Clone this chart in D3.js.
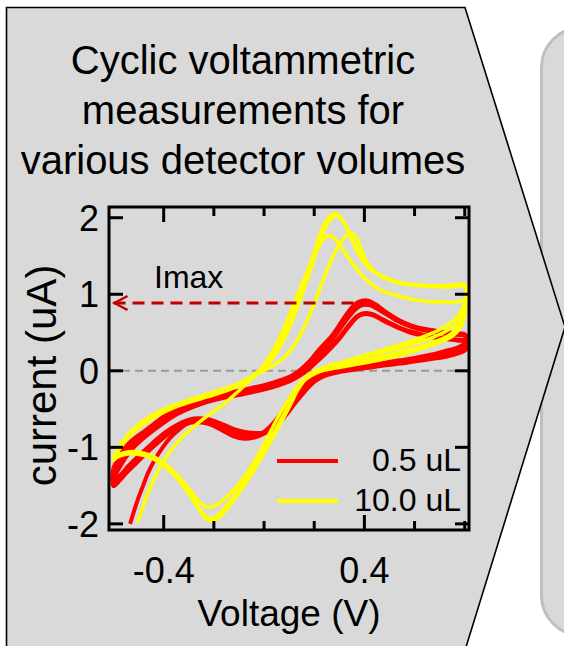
<!DOCTYPE html>
<html><head><meta charset="utf-8">
<script src="https://cdn.jsdelivr.net/npm/d3@7"></script>
<style>html,body{margin:0;padding:0;background:#fff;}svg{display:block;}</style>
</head><body>
<script>
// ---------- data ----------
const titleLines = ["Cyclic voltammetric", "measurements for", "various detector volumes"];
const xLabel = "Voltage (V)";
const yLabel = "current (uA)";
const xMajorTicks = [-0.4, 0.4];
const xMinorTicks = [-0.2, 0, 0.2, 0.6, 0.8];
const xTickLabels = ["-0.4", "0.4"];
const yTicks = [-2, -1, 0, 1, 2];
const yTickLabels = ["-2", "-1", "0", "1", "2"];
const seriesNames = ["0.5 uL", "10.0 uL"];
const seriesColors = ["#ff0000", "#ffff00"];
const imaxValue = 0.886;
const imaxVoltage = 0.395;

// 0.5 uL cycles: [voltage, current]
const red_tail = [[-0.534,-2.00],[-0.518,-1.83],[-0.502,-1.67],[-0.482,-1.50],[-0.462,-1.33],[-0.435,-1.16],[-0.406,-1.01],[-0.375,-0.88],[-0.343,-0.78],[-0.303,-0.68],[-0.265,-0.65]];
const red_cycle1 = [[-0.600,-1.28],[-0.575,-1.12],[-0.540,-0.96],[-0.500,-0.85],[-0.474,-0.79],[-0.430,-0.68],[-0.390,-0.58],[-0.343,-0.49],[-0.290,-0.41],[-0.235,-0.36],[-0.170,-0.31],[-0.104,-0.27],[-0.050,-0.23],[0.004,-0.19],[0.055,-0.14],[0.104,-0.08],[0.135,-0.02],[0.163,0.06],[0.190,0.15],[0.215,0.25],[0.243,0.35],[0.271,0.45],[0.297,0.57],[0.323,0.70],[0.345,0.80],[0.365,0.87],[0.390,0.91],[0.415,0.91],[0.440,0.87],[0.470,0.80],[0.505,0.72],[0.540,0.65],[0.580,0.59],[0.620,0.55],[0.670,0.52],[0.720,0.50],[0.770,0.48],[0.800,0.47],
  [0.806,0.40],[0.795,0.34],[0.765,0.29],[0.720,0.25],[0.660,0.20],[0.600,0.16],[0.540,0.13],[0.480,0.10],[0.420,0.07],[0.350,0.04],[0.290,0.01],[0.240,-0.03],[0.200,-0.08],[0.170,-0.16],[0.140,-0.26],[0.110,-0.37],[0.080,-0.51],[0.050,-0.64],[0.020,-0.75],[-0.010,-0.83],[-0.045,-0.87],[-0.080,-0.88],[-0.120,-0.85],[-0.167,-0.77],[-0.210,-0.70],[-0.250,-0.67],[-0.290,-0.67],[-0.330,-0.72],[-0.380,-0.82],[-0.430,-0.95],[-0.470,-1.07],[-0.510,-1.20],[-0.550,-1.33],[-0.580,-1.44],[-0.600,-1.50],[-0.600,-1.28]];
const red_cycle2 = [[-0.597,-1.32],[-0.570,-1.15],[-0.535,-0.99],[-0.495,-0.87],[-0.450,-0.75],[-0.400,-0.63],[-0.345,-0.52],[-0.290,-0.44],[-0.230,-0.38],[-0.170,-0.33],[-0.104,-0.29],[-0.050,-0.25],[0.004,-0.21],[0.055,-0.16],[0.104,-0.10],[0.140,-0.03],[0.170,0.05],[0.200,0.15],[0.228,0.25],[0.256,0.35],[0.284,0.47],[0.310,0.59],[0.335,0.70],[0.358,0.79],[0.380,0.85],[0.400,0.87],[0.425,0.86],[0.455,0.81],[0.490,0.74],[0.525,0.67],[0.565,0.61],[0.610,0.56],[0.660,0.53],[0.710,0.50],[0.760,0.48],[0.803,0.46],
  [0.808,0.38],[0.798,0.32],[0.770,0.27],[0.725,0.23],[0.665,0.19],[0.605,0.15],[0.545,0.12],[0.485,0.09],[0.425,0.06],[0.355,0.03],[0.295,0.00],[0.245,-0.04],[0.205,-0.10],[0.175,-0.18],[0.145,-0.28],[0.115,-0.40],[0.085,-0.53],[0.055,-0.66],[0.025,-0.76],[-0.005,-0.82],[-0.040,-0.85],[-0.075,-0.85],[-0.115,-0.82],[-0.160,-0.75],[-0.205,-0.68],[-0.245,-0.65],[-0.285,-0.65],[-0.325,-0.70],[-0.375,-0.79],[-0.425,-0.91],[-0.465,-1.03],[-0.505,-1.16],[-0.545,-1.29],[-0.575,-1.40],[-0.597,-1.46],[-0.597,-1.32]];
const red_cycle3 = [[-0.595,-1.36],[-0.565,-1.19],[-0.530,-1.03],[-0.490,-0.90],[-0.445,-0.78],[-0.395,-0.66],[-0.340,-0.55],[-0.285,-0.47],[-0.225,-0.40],[-0.165,-0.35],[-0.100,-0.31],[-0.045,-0.27],[0.010,-0.23],[0.060,-0.18],[0.108,-0.12],[0.145,-0.05],[0.178,0.03],[0.208,0.12],[0.238,0.21],[0.268,0.31],[0.296,0.41],[0.322,0.52],[0.346,0.62],[0.368,0.70],[0.390,0.74],[0.410,0.75],[0.435,0.73],[0.465,0.68],[0.500,0.62],[0.540,0.56],[0.580,0.51],[0.630,0.47],[0.680,0.44],[0.730,0.42],[0.775,0.40],[0.805,0.39],
  [0.810,0.32],[0.800,0.27],[0.770,0.23],[0.725,0.19],[0.665,0.16],[0.605,0.13],[0.545,0.10],[0.485,0.08],[0.425,0.05],[0.360,0.02],[0.300,-0.01],[0.250,-0.05],[0.212,-0.11],[0.182,-0.19],[0.152,-0.30],[0.122,-0.42],[0.092,-0.55],[0.062,-0.67],[0.032,-0.76],[0.000,-0.81],[-0.035,-0.82],[-0.070,-0.81],[-0.110,-0.78],[-0.155,-0.72],[-0.200,-0.66],[-0.240,-0.63],[-0.280,-0.63],[-0.320,-0.67],[-0.370,-0.76],[-0.420,-0.88],[-0.460,-1.00],[-0.500,-1.12],[-0.540,-1.25],[-0.570,-1.36],[-0.595,-1.42],[-0.595,-1.36]];

// 10.0 uL cycles: [voltage, current]
const yellow_cycle1 = [[-0.502,-1.98],[-0.485,-1.80],[-0.468,-1.64],[-0.450,-1.50],[-0.434,-1.38],[-0.400,-1.18],[-0.367,-1.02],[-0.330,-0.88],[-0.287,-0.75],[-0.230,-0.60],[-0.167,-0.45],[-0.110,-0.29],[-0.064,-0.15],[-0.025,-0.02],[0.010,0.12],[0.045,0.32],[0.080,0.56],[0.115,0.84],[0.150,1.12],[0.185,1.40],[0.212,1.59],[0.235,1.71],[0.256,1.77],[0.278,1.74],[0.300,1.65],[0.325,1.53],[0.349,1.42],[0.375,1.31],[0.402,1.21],[0.430,1.13],[0.455,1.07],[0.490,1.02],[0.521,0.99],[0.570,0.95],[0.614,0.92],[0.670,0.90],[0.720,0.90],[0.770,0.90],[0.800,0.92],
  [0.803,0.80],[0.795,0.66],[0.780,0.55],[0.750,0.45],[0.700,0.37],[0.640,0.30],[0.570,0.23],[0.500,0.17],[0.430,0.12],[0.360,0.08],[0.290,0.04],[0.230,0.00],[0.180,-0.06],[0.150,-0.14],[0.120,-0.26],[0.090,-0.42],[0.060,-0.58],[0.020,-0.83],[-0.020,-1.08],[-0.060,-1.30],[-0.100,-1.48],[-0.140,-1.62],[-0.180,-1.73],[-0.210,-1.78],[-0.235,-1.77],[-0.260,-1.70],[-0.290,-1.58],[-0.325,-1.44],[-0.365,-1.30],[-0.410,-1.18],[-0.455,-1.10],[-0.500,-1.06],[-0.545,-1.06],[-0.580,-1.10],[-0.605,-1.16]];
const yellow_cycle2 = [[-0.600,-1.14],[-0.580,-1.02],[-0.555,-0.90],[-0.525,-0.79],[-0.495,-0.70],[-0.460,-0.62],[-0.420,-0.55],[-0.370,-0.47],[-0.310,-0.40],[-0.250,-0.34],[-0.190,-0.28],[-0.130,-0.21],[-0.080,-0.13],[-0.040,-0.05],[-0.005,0.04],[0.030,0.17],[0.060,0.33],[0.090,0.53],[0.120,0.78],[0.150,1.05],[0.180,1.35],[0.207,1.62],[0.232,1.86],[0.255,1.99],[0.276,2.05],[0.296,2.03],[0.316,1.95],[0.336,1.82],[0.358,1.65],[0.380,1.51],[0.402,1.40],[0.430,1.31],[0.458,1.25],[0.508,1.18],[0.560,1.14],[0.614,1.12],[0.680,1.11],[0.747,1.12],[0.800,1.13],
  [0.806,1.05],[0.802,0.93],[0.792,0.82],[0.772,0.71],[0.738,0.61],[0.690,0.52],[0.630,0.44],[0.560,0.36],[0.490,0.29],[0.420,0.22],[0.350,0.15],[0.285,0.09],[0.230,0.03],[0.190,-0.03],[0.160,-0.11],[0.130,-0.25],[0.104,-0.43],[0.070,-0.63],[0.032,-0.86],[-0.010,-1.10],[-0.050,-1.32],[-0.090,-1.52],[-0.130,-1.70],[-0.165,-1.84],[-0.190,-1.93],[-0.210,-1.96],[-0.232,-1.93],[-0.258,-1.82],[-0.290,-1.65],[-0.325,-1.49],[-0.365,-1.33],[-0.410,-1.21],[-0.455,-1.12],[-0.500,-1.08],[-0.545,-1.08],[-0.580,-1.11],[-0.600,-1.14]];
const yellow_cycle3 = [[-0.603,-1.18],[-0.582,-1.05],[-0.556,-0.93],[-0.526,-0.82],[-0.494,-0.73],[-0.458,-0.65],[-0.416,-0.57],[-0.366,-0.49],[-0.306,-0.42],[-0.246,-0.36],[-0.186,-0.30],[-0.126,-0.23],[-0.076,-0.15],[-0.034,-0.06],[0.002,0.04],[0.036,0.17],[0.066,0.33],[0.096,0.53],[0.126,0.77],[0.156,1.04],[0.186,1.33],[0.213,1.60],[0.238,1.83],[0.261,1.96],[0.282,2.02],[0.302,2.00],[0.322,1.92],[0.342,1.79],[0.364,1.63],[0.386,1.50],[0.410,1.39],[0.438,1.30],[0.468,1.24],[0.518,1.17],[0.570,1.13],[0.624,1.11],[0.690,1.10],[0.755,1.10],[0.802,1.10],
  [0.808,1.00],[0.803,0.86],[0.790,0.73],[0.768,0.62],[0.732,0.53],[0.682,0.45],[0.620,0.38],[0.550,0.31],[0.480,0.25],[0.410,0.19],[0.340,0.13],[0.278,0.07],[0.225,0.01],[0.186,-0.05],[0.156,-0.14],[0.126,-0.28],[0.098,-0.46],[0.064,-0.66],[0.026,-0.89],[-0.016,-1.12],[-0.056,-1.34],[-0.096,-1.53],[-0.134,-1.70],[-0.168,-1.83],[-0.193,-1.91],[-0.214,-1.93],[-0.236,-1.90],[-0.262,-1.79],[-0.294,-1.62],[-0.330,-1.46],[-0.370,-1.31],[-0.415,-1.20],[-0.460,-1.12],[-0.505,-1.09],[-0.550,-1.09],[-0.585,-1.13],[-0.603,-1.18]];
const yellow_cycle4 = [[-0.598,-1.12],[-0.577,-0.99],[-0.551,-0.87],[-0.521,-0.76],[-0.489,-0.67],[-0.452,-0.59],[-0.410,-0.52],[-0.360,-0.45],[-0.300,-0.38],[-0.240,-0.32],[-0.180,-0.26],[-0.120,-0.19],[-0.070,-0.12],[-0.030,-0.05],[0.010,0.02],[0.050,0.10],[0.090,0.21],[0.127,0.37],[0.163,0.59],[0.197,0.85],[0.230,1.14],[0.258,1.37],[0.283,1.55],[0.306,1.68],[0.326,1.76],[0.343,1.80],[0.358,1.78],[0.372,1.72],[0.389,1.57],[0.405,1.45],[0.420,1.37],[0.444,1.29],[0.469,1.23],[0.508,1.18],[0.548,1.14],[0.610,1.12],[0.681,1.10],[0.750,1.10],[0.800,1.11],
  [0.805,0.95],[0.800,0.80],[0.788,0.66],[0.768,0.55],[0.736,0.46],[0.690,0.39],[0.630,0.32],[0.560,0.26],[0.490,0.20],[0.420,0.15],[0.350,0.10],[0.285,0.05],[0.235,0.01],[0.195,-0.05],[0.163,-0.12],[0.133,-0.26],[0.106,-0.44],[0.074,-0.64],[0.036,-0.87],[-0.006,-1.11],[-0.046,-1.33],[-0.086,-1.53],[-0.126,-1.71],[-0.160,-1.85],[-0.185,-1.93],[-0.205,-1.95],[-0.228,-1.92],[-0.254,-1.82],[-0.286,-1.66],[-0.322,-1.50],[-0.362,-1.35],[-0.407,-1.22],[-0.452,-1.13],[-0.497,-1.08],[-0.542,-1.07],[-0.578,-1.09],[-0.598,-1.12]];

const redCycles = [red_tail, red_cycle1, red_cycle2, red_cycle3];
const yellowCycles = [yellow_cycle1, yellow_cycle2, yellow_cycle3, yellow_cycle4];

// ---------- drawing ----------
const W = 564, H = 646;
const FONT = "'Liberation Sans', Arial, Helvetica, sans-serif";
const svg = d3.select("body").append("svg").attr("width", W).attr("height", H)
  .style("font-family", FONT);

// background panels
svg.append("rect").attr("x", 541.5).attr("y", 27.5).attr("width", 120).attr("height", 608)
  .attr("rx", 40).attr("fill", "#d9d9d9").attr("stroke", "#bfbfbf").attr("stroke-width", 3);
svg.append("path")
  .attr("d", "M6.5,660 L6.5,7.5 L465,7.5 L565,327 L462,660")
  .attr("fill", "#d9d9d9").attr("stroke", "#000").attr("stroke-width", 1.6);

// title
const title = svg.append("text").attr("text-anchor", "middle").attr("font-size", 40).attr("fill", "#000");
titleLines.forEach((t, i) => title.append("tspan").attr("x", 243).attr("y", 74 + i * 50).text(t));

// scales
const L = 109, R = 469, T = 207, B = 530;
const x = d3.scaleLinear().domain([-0.618, 0.817]).range([L, R]);
const y = d3.scaleLinear().domain([-2.08, 2.14]).range([B, T]);

const g = svg.append("g");
const clip = svg.append("clipPath").attr("id", "clip");
clip.append("rect").attr("x", L).attr("y", T).attr("width", R - L).attr("height", B - T);

// zero line
g.append("line").attr("x1", L).attr("x2", R).attr("y1", y(0)).attr("y2", y(0))
  .attr("stroke", "#9a9a9a").attr("stroke-width", 2).attr("stroke-dasharray", "8,5");

// curves
const line = d3.line().x(d => x(d[0])).y(d => y(d[1])).curve(d3.curveCatmullRom.alpha(0.5));
const curves = g.append("g").attr("clip-path", "url(#clip)");
redCycles.forEach((c, i) => curves.append("path").attr("d", line(c)).attr("fill", "none")
  .attr("stroke", seriesColors[0]).attr("stroke-width", i === 0 ? 4 : 5).attr("stroke-linejoin", "round"));
yellowCycles.forEach(c => curves.append("path").attr("d", line(c)).attr("fill", "none")
  .attr("stroke", seriesColors[1]).attr("stroke-width", 3.5).attr("stroke-linejoin", "round"));

// Imax arrow
g.append("line").attr("x1", x(-0.6)).attr("x2", x(imaxVoltage)).attr("y1", y(imaxValue)).attr("y2", y(imaxValue))
  .attr("stroke", "#c00000").attr("stroke-width", 3).attr("stroke-dasharray", "12,7");
g.append("path")
  .attr("d", `M${x(-0.6) + 14},${y(imaxValue) - 7} L${x(-0.6) + 1},${y(imaxValue)} L${x(-0.6) + 14},${y(imaxValue) + 7}`)
  .attr("fill", "none").attr("stroke", "#c00000").attr("stroke-width", 2.5);
g.append("text").attr("x", 154).attr("y", 288).attr("font-size", 32).text("Imax");

// frame
g.append("rect").attr("x", L).attr("y", T).attr("width", R - L).attr("height", B - T)
  .attr("fill", "none").attr("stroke", "#000").attr("stroke-width", 3);

// ticks (inward)
const tk = g.append("g").attr("stroke", "#000").attr("stroke-width", 3);
xMajorTicks.forEach(v => {
  tk.append("line").attr("x1", x(v)).attr("x2", x(v)).attr("y1", B).attr("y2", B - 15);
  tk.append("line").attr("x1", x(v)).attr("x2", x(v)).attr("y1", T).attr("y2", T + 15);
});
xMinorTicks.forEach(v => {
  tk.append("line").attr("x1", x(v)).attr("x2", x(v)).attr("y1", B).attr("y2", B - 9);
  tk.append("line").attr("x1", x(v)).attr("x2", x(v)).attr("y1", T).attr("y2", T + 9);
});
yTicks.forEach(v => {
  tk.append("line").attr("x1", L).attr("x2", L + 14).attr("y1", y(v)).attr("y2", y(v));
  tk.append("line").attr("x1", R).attr("x2", R - 14).attr("y1", y(v)).attr("y2", y(v));
});

// tick labels
xMajorTicks.forEach((v, i) => g.append("text").attr("x", x(v)).attr("y", 583)
  .attr("text-anchor", "middle").attr("font-size", 36).text(xTickLabels[i]));
yTicks.forEach((v, i) => g.append("text").attr("x", 99).attr("y", y(v) + 13)
  .attr("text-anchor", "end").attr("font-size", 36).text(yTickLabels[i]));

// axis titles
g.append("text").attr("x", (L + R) / 2).attr("y", 626).attr("text-anchor", "middle")
  .attr("font-size", 37).text(xLabel);
g.append("text").attr("transform", `translate(56,${(T + B) / 2 + 7}) rotate(-90)`)
  .attr("text-anchor", "middle").attr("font-size", 42).text(yLabel);

// legend
seriesNames.forEach((n, i) => {
  const ly = 461 + i * 40;
  g.append("line").attr("x1", 277).attr("x2", 338).attr("y1", ly).attr("y2", ly)
    .attr("stroke", seriesColors[i]).attr("stroke-width", 4);
  g.append("text").attr("x", 461).attr("y", ly + 10).attr("text-anchor", "end")
    .attr("font-size", 32).text(n);
});
</script>
</body></html>
